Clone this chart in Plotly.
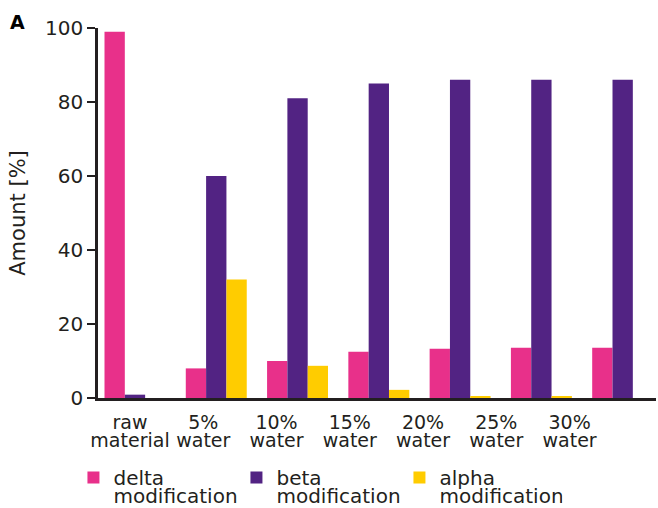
import plotly.graph_objects as go

top_words = ["raw", "5%", "10%", "15%", "20%", "25%", "30%"]
bottom_words = ["material", "water", "water", "water", "water", "water", "water"]
delta = [99, 8, 10, 12.5, 13.3, 13.6, 13.6]
beta = [0.9, 60, 81, 85, 86, 86, 86]
alpha = [0, 32, 8.7, 2.2, 0.3, 0.3, 0]
y_ticks = [0, 20, 40, 60, 80, 100]

series_names = ["delta", "beta", "alpha"]
series_suffix = "modification"
series_values = [delta, beta, alpha]
series_colors = ["#E8308A", "#522383", "#FFCC00"]

TEXT = "#231f20"
FONT = "DejaVu Sans"
idx = list(range(len(top_words)))

fig = go.Figure()
for name, vals, color in zip(series_names, series_values, series_colors):
    fig.add_trace(go.Bar(x=idx, y=vals, marker_color=color, marker_line_width=0,
                         showlegend=False, name=f"{name} {series_suffix}"))
    # square legend key with the first word of the series name
    fig.add_trace(go.Scatter(x=[None], y=[None], mode="markers", name=name,
                             legend="legend",
                             marker=dict(symbol="square", size=11, color=color)))
    # second legend row carrying the common suffix, key hidden
    fig.add_trace(go.Scatter(x=[None], y=[None], mode="markers", name=series_suffix,
                             legend="legend2",
                             marker=dict(symbol="square", size=11,
                                         color="rgba(0,0,0,0)",
                                         line=dict(width=0))))

# invisible traces carrying the two-line category labels on extra x axes
for ax in ("x2", "x3"):
    fig.add_trace(go.Scatter(x=idx, y=[None] * len(idx), xaxis=ax, showlegend=False,
                             mode="markers", marker=dict(opacity=0), hoverinfo="skip"))

label_axis = dict(range=[-0.437, 7.18], overlaying="x", anchor="y", side="bottom",
                  tickmode="array", tickvals=idx, showgrid=False, zeroline=False,
                  showline=False, ticks="", automargin=False,
                  tickfont=dict(family=FONT, size=19, color=TEXT))

legend_common = dict(orientation="h", x=-0.044, xanchor="left", yanchor="top",
                     entrywidth=118, entrywidthmode="pixels", itemsizing="constant",
                     bgcolor="rgba(0,0,0,0)", itemclick=False, itemdoubleclick=False,
                     font=dict(family=FONT, size=20, color=TEXT))

fig.update_layout(
    width=658, height=508,
    margin=dict(l=98, r=2, t=28, b=110, autoexpand=False),
    paper_bgcolor="white", plot_bgcolor="white",
    font=dict(family=FONT, size=20, color=TEXT),
    barmode="group", bargap=0.25, bargroupgap=0,
    xaxis=dict(range=[-0.455, 6.41], showticklabels=False, ticks="",
               showgrid=False, zeroline=False, showline=True, automargin=False,
               linecolor=TEXT, linewidth=2.5),
    xaxis2=dict(label_axis, ticktext=top_words, ticklabelstandoff=11),
    xaxis3=dict(label_axis, ticktext=bottom_words, ticklabelstandoff=29),
    yaxis=dict(range=[0, 100], tickvals=y_ticks, ticks="outside", ticklen=8,
               tickwidth=2, tickcolor=TEXT, showgrid=False, zeroline=False,
               showline=True, linecolor=TEXT, linewidth=2.5, automargin=False,
               title=dict(text="Amount [%]", standoff=14,
                          font=dict(family=FONT, size=21, color=TEXT)),
               tickfont=dict(family=FONT, size=20, color=TEXT)),
    legend=dict(legend_common, y=-0.162),
    legend2=dict(legend_common, y=-0.2095),
    annotations=[dict(text="<b>A</b>", xref="paper", yref="paper", x=-0.161, y=1.015,
                      xanchor="left", yanchor="middle", showarrow=False,
                      font=dict(family=FONT, size=19, color="black"))],
)

fig.write_html("out.html")
